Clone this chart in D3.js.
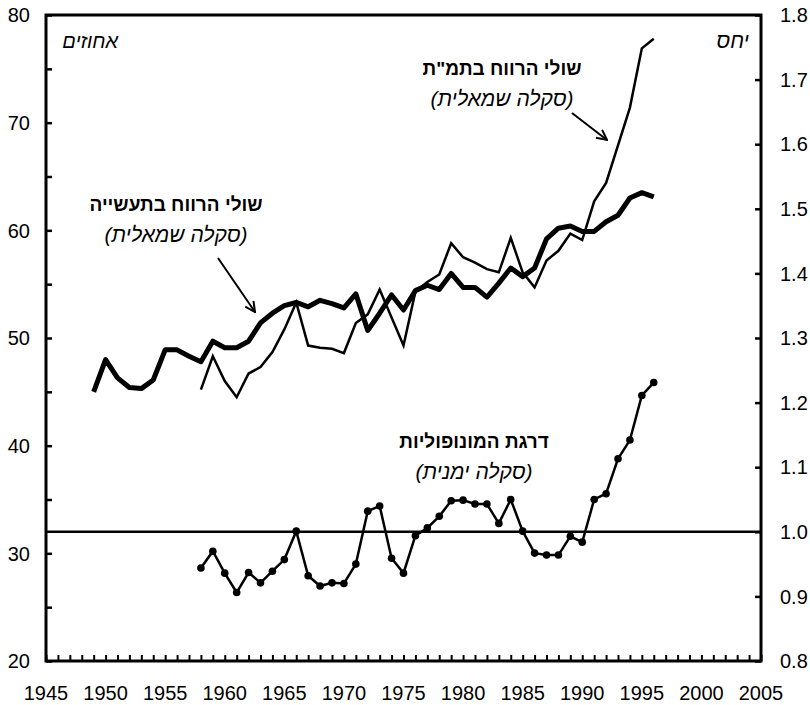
<!DOCTYPE html>
<html lang="he">
<head>
<meta charset="utf-8">
<script src="https://cdn.jsdelivr.net/npm/d3@7"></script>
<style>
  html, body { margin: 0; padding: 0; background: #fff; }
  svg text { font-family: "Liberation Sans", Arial, sans-serif; fill: #000; }
</style>
</head>
<body>
<svg id="chart" width="810" height="705"></svg>
<script>
// Profit share in industry (left scale, %), 1949–1996
const industryYears = d3.range(1949, 1997);
const industryShare = [45.0, 48.0, 46.3, 45.4, 45.3, 46.1, 48.9, 48.9, 48.3, 47.8,
  49.7, 49.1, 49.1, 49.7, 51.4, 52.3, 53.0, 53.3, 52.9, 53.5,
  53.2, 52.8, 54.1, 50.7, 52.3, 54.0, 52.6, 54.4, 54.9, 54.5,
  56.0, 54.7, 54.7, 53.8, 55.1, 56.5, 55.7, 56.5, 59.2, 60.2,
  60.4, 59.9, 59.9, 60.8, 61.4, 63.0, 63.5, 63.1];

// Profit share in GDP (left scale, %), 1958–1996
const gdpYears = d3.range(1958, 1997);
const gdpShare = [45.2, 48.3, 46.0, 44.5, 46.7, 47.3, 48.7, 50.8, 53.3, 49.3,
  49.1, 49.0, 48.6, 51.4, 52.2, 54.5, 51.9, 49.3, 54.3, 55.2,
  55.9, 58.8, 57.5, 57.0, 56.4, 56.1, 59.3, 56.1, 54.7, 57.2,
  58.1, 59.7, 59.1, 62.7, 64.4, 67.9, 71.4, 76.9, 77.8];

// Degree of monopoly (right scale, ratio), 1958–1996
const monoYears = d3.range(1958, 1997);
const monoRatio = [0.944, 0.970, 0.936, 0.906, 0.937, 0.921, 0.939, 0.957, 1.001, 0.932,
  0.916, 0.921, 0.920, 0.950, 1.032, 1.040, 0.959, 0.936, 0.994, 1.006,
  1.024, 1.048, 1.049, 1.043, 1.043, 1.013, 1.050, 1.001, 0.967, 0.964,
  0.964, 0.993, 0.984, 1.050, 1.059, 1.113, 1.142, 1.211, 1.231];

const baselineRatio = 1.0;

const xTickLabels = d3.range(1945, 2006, 5);
const leftTickLabels = d3.range(20, 81, 10);
const rightTickLabels = d3.range(0.8, 1.801, 0.1);

const svg = d3.select("#chart");
const plotLeft = 46, plotRight = 761, plotTop = 15, plotBottom = 661;

const x = d3.scaleLinear().domain([1945, 2005]).range([plotLeft, plotRight]);
const yL = d3.scaleLinear().domain([20, 80]).range([plotBottom, plotTop]);
const yR = d3.scaleLinear().domain([0.8, 1.8]).range([plotBottom, plotTop]);

// Arrowhead
svg.append("defs").append("marker")
  .attr("id", "arrow")
  .attr("viewBox", "0 0 12 12")
  .attr("refX", 11).attr("refY", 6)
  .attr("markerWidth", 12).attr("markerHeight", 12)
  .attr("markerUnits", "userSpaceOnUse")
  .attr("orient", "auto")
  .append("path")
  .attr("d", "M1,1 L11,6 L1,11")
  .attr("fill", "none").attr("stroke", "#000").attr("stroke-width", 2);

// Axes (ticks pointing into the plot)
const fontSize = 20;
const bottomAxis = d3.axisBottom(x).tickValues(d3.range(1945, 2006, 1))
  .tickSize(-6).tickFormat("");
const gB = svg.append("g").attr("transform", `translate(0,${plotBottom})`).call(bottomAxis);
gB.selectAll("line").attr("stroke-width", 2);

const leftAxis = d3.axisLeft(yL).tickValues(d3.range(20, 81, 5)).tickSize(-6).tickFormat("");
const gL = svg.append("g").attr("transform", `translate(${plotLeft},0)`).call(leftAxis);
gL.selectAll("line").attr("stroke-width", 2.5);

const rightAxis = d3.axisRight(yR).tickValues(rightTickLabels).tickSize(-6).tickFormat("");
const gR = svg.append("g").attr("transform", `translate(${plotRight},0)`).call(rightAxis);
gR.selectAll("line").attr("stroke-width", 2.5);

svg.selectAll(".domain").remove();

// Frame
svg.append("rect")
  .attr("x", plotLeft).attr("y", plotTop)
  .attr("width", plotRight - plotLeft).attr("height", plotBottom - plotTop)
  .attr("fill", "none").attr("stroke", "#000").attr("stroke-width", 3);

// Tick labels
svg.append("g").selectAll("text").data(xTickLabels).join("text")
  .attr("x", d => x(d)).attr("y", 700)
  .attr("text-anchor", "middle").attr("font-size", fontSize)
  .text(d => d);

svg.append("g").selectAll("text").data(leftTickLabels).join("text")
  .attr("x", 30).attr("y", d => yL(d)).attr("dy", "0.36em")
  .attr("text-anchor", "end").attr("font-size", fontSize)
  .text(d => d);

svg.append("g").selectAll("text").data(rightTickLabels).join("text")
  .attr("x", 780).attr("y", d => yR(d)).attr("dy", "0.36em")
  .attr("text-anchor", "start").attr("font-size", fontSize)
  .text(d => d.toFixed(1));

// Reference line at ratio 1.0
svg.append("line")
  .attr("x1", plotLeft).attr("x2", plotRight)
  .attr("y1", yR(baselineRatio)).attr("y2", yR(baselineRatio))
  .attr("stroke", "#000").attr("stroke-width", 2.5);

// Series
const lineL = d3.line().x(d => x(d[0])).y(d => yL(d[1]));
const lineR = d3.line().x(d => x(d[0])).y(d => yR(d[1]));

svg.append("path")
  .datum(gdpYears.map((yr, i) => [yr, gdpShare[i]]))
  .attr("d", lineL).attr("fill", "none").attr("stroke", "#000")
  .attr("stroke-width", 2.5).attr("stroke-linejoin", "miter");

svg.append("path")
  .datum(industryYears.map((yr, i) => [yr, industryShare[i]]))
  .attr("d", lineL).attr("fill", "none").attr("stroke", "#000")
  .attr("stroke-width", 5).attr("stroke-linejoin", "round");

const monoData = monoYears.map((yr, i) => [yr, monoRatio[i]]);
svg.append("path")
  .datum(monoData)
  .attr("d", lineR).attr("fill", "none").attr("stroke", "#000")
  .attr("stroke-width", 2.5);
svg.append("g").selectAll("circle").data(monoData).join("circle")
  .attr("cx", d => x(d[0])).attr("cy", d => yR(d[1]))
  .attr("r", 3.8).attr("fill", "#000");

// Annotations
function label(cx, y1, y2, bold, italic) {
  svg.append("text").attr("x", cx).attr("y", y1)
    .attr("text-anchor", "middle").attr("direction", "rtl")
    .attr("font-size", 19).attr("font-weight", "bold").text(bold);
  svg.append("text").attr("x", cx).attr("y", y2)
    .attr("text-anchor", "middle").attr("direction", "rtl")
    .attr("font-size", 21).attr("font-style", "italic").text(italic);
}
label(176, 211, 242, "שולי הרווח בתעשייה", "(סקלה שמאלית)");
label(502, 75, 106, "שולי הרווח בתמ\"ת", "(סקלה שמאלית)");
label(474, 448, 479, "דרגת המונופוליות", "(סקלה ימנית)");

svg.append("text").attr("x", 118).attr("y", 48)
  .attr("text-anchor", "end").attr("font-size", 20)
  .attr("font-style", "italic").text("אחוזים");
svg.append("text").attr("x", 749).attr("y", 48)
  .attr("text-anchor", "end").attr("font-size", 21)
  .attr("font-style", "italic").text("יחס");

// Pointer arrows
svg.append("line").attr("x1", 218).attr("y1", 258).attr("x2", 255).attr("y2", 312)
  .attr("stroke", "#000").attr("stroke-width", 2).attr("marker-end", "url(#arrow)");
svg.append("line").attr("x1", 572).attr("y1", 113).attr("x2", 607).attr("y2", 140)
  .attr("stroke", "#000").attr("stroke-width", 2).attr("marker-end", "url(#arrow)");
</script>
</body>
</html>
